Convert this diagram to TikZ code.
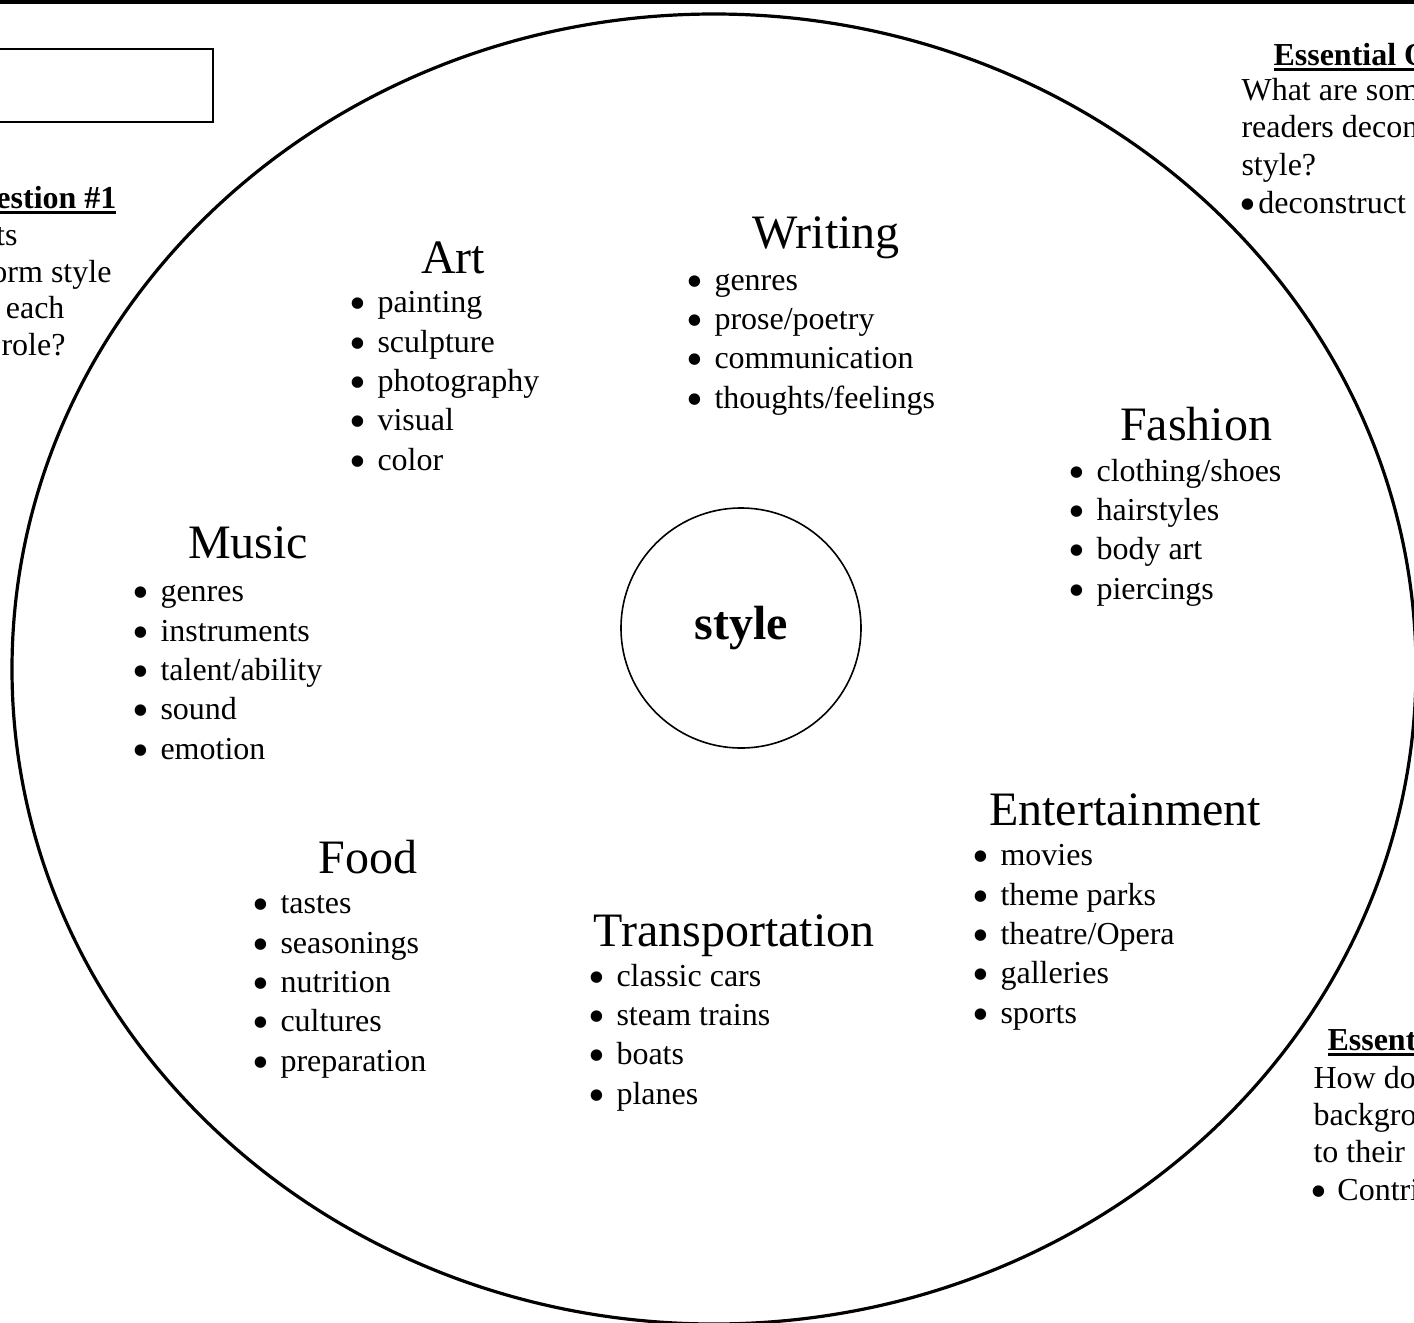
\documentclass[tikz,border=0pt]{standalone}
\usepackage{fontspec}
\setmainfont{Liberation Serif}
\usepackage{tikz}
\tikzset{%
  catHead/.style={anchor=base, inner sep=0pt, font=\fontsize{18}{22}\selectfont},
  catList/.style={anchor=base west, align=left, inner sep=0pt, font=\fontsize{12}{14.75}\selectfont},
  eqText/.style={anchor=base west, inner sep=0pt, font=\fontsize{12}{14}\selectfont},
  eqCut/.style={anchor=base east, inner sep=0pt, font=\fontsize{12}{14}\selectfont}
}
\newcommand{\bul}[1][10.5pt]{\makebox[#1][l]{\raisebox{-2.7pt}{\fontsize{18}{18}\selectfont\textbullet}}}
\newcommand{\ulhead}[1]{\setbox0\hbox{\bfseries #1}\rlap{\rule[-2.2pt]{\wd0}{1.1pt}}\box0}

\begin{document}
\begin{tikzpicture}[x=0.375pt,y=-0.375pt]
\useasboundingbox (0,0) rectangle (1414,1322);
\clip (0,0) rectangle (1414,1322);

\fill[black] (0,0) rectangle (1414,4);
\draw[thick] (-20,49) rectangle (213,122);
\draw[very thick] (714,669) ellipse (702 and 655);

\node[circle, draw, semithick, minimum size=90pt, inner sep=0pt,
      font=\bfseries\fontsize{18}{22}\selectfont] (core) at (741,628) {style};

% categories (list nodes sit on the baseline of their last line)
\node[catHead] (artH) at (453,273) {Art};
\node[catList] (artL) at (349,470) {\bul painting\\\bul sculpture\\\bul photography\\\bul visual\\\bul color};

\node[catHead] (writH) at (826,248) {Writing};
\node[catList] (writL) at (686,408) {\bul genres\\\bul prose/poetry\\\bul communication\\\bul thoughts/feelings};

\node[catHead] (fashH) at (1196,440) {Fashion};
\node[catList] (fashL) at (1068,599) {\bul clothing/shoes\\\bul hairstyles\\\bul body art\\\bul piercings};

\node[catHead] (musH) at (248,558) {Music};
\node[catList] (musL) at (132,759) {\bul genres\\\bul instruments\\\bul talent/ability\\\bul sound\\\bul emotion};

\node[catHead] (entH) at (1125,825) {Entertainment};
\node[catList] (entL) at (972,1023) {\bul movies\\\bul theme parks\\\bul theatre/Opera\\\bul galleries\\\bul sports};

\node[catHead] (foodH) at (368,873) {Food};
\node[catList] (foodL) at (252,1071) {\bul tastes\\\bul seasonings\\\bul nutrition\\\bul cultures\\\bul preparation};

\node[catHead] (tranH) at (734,946) {Transportation};
\node[catList] (tranL) at (588,1104) {\bul classic cars\\\bul steam trains\\\bul boats\\\bul planes};

% essential questions, cut at the page edge
\node[eqCut] (eqAh) at (117,208) {\ulhead{estion \#1}};
\node[eqCut] (eqA1) at (18,245) {ts};
\node[eqCut] (eqA2) at (112,282) {orm style};
\node[eqCut] (eqA3) at (65,318) {each};
\node[eqCut] (eqA4) at (66,355) {role?};

\node[eqText] (eqBh) at (1273,65) {\ulhead{Essential Q}};
\node[eqText] (eqB1) at (1241,100) {What are som};
\node[eqText] (eqB2) at (1241,137) {readers decon};
\node[eqText] (eqB3) at (1241,175) {style?};
\node[eqText] (eqB4) at (1239,213) {\bul[7.1pt]deconstruct};

\node[eqText] (eqCh) at (1327,1050) {\ulhead{Essent}};
\node[eqText] (eqC1) at (1313,1088) {How do};
\node[eqText] (eqC2) at (1313,1125) {backgro};
\node[eqText] (eqC3) at (1313,1162) {to their};
\node[eqText] (eqC4) at (1310,1200) {\bul[10.1pt]Contri};
\end{tikzpicture}
\end{document}
